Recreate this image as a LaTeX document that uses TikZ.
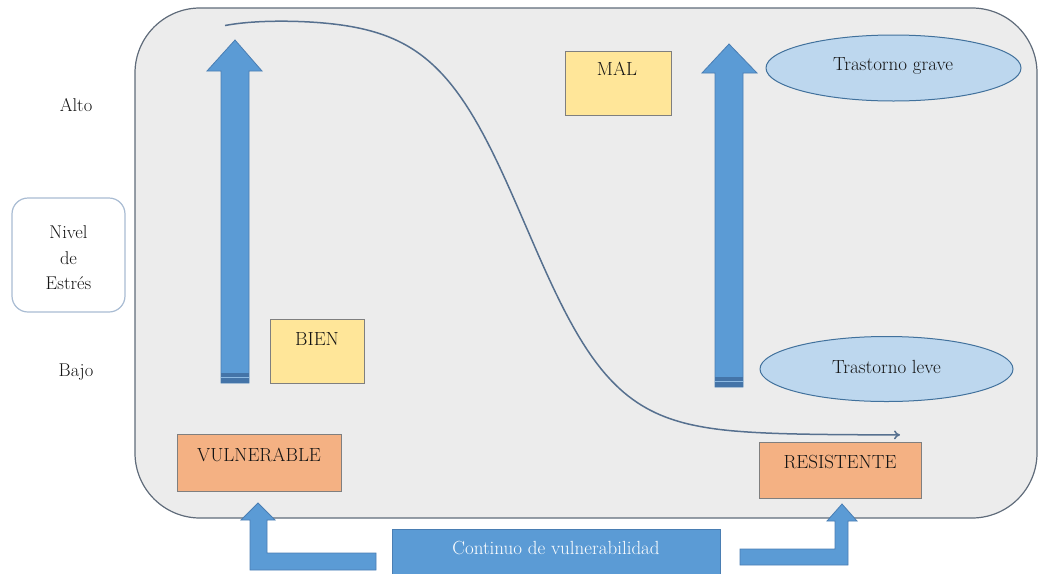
\documentclass[tikz,border=0pt]{standalone}
\usetikzlibrary{arrows.meta,shapes.geometric}

\definecolor{panelfill}{HTML}{ECECEC}
\definecolor{panelline}{HTML}{5F6B7A}
\definecolor{arrowblue}{HTML}{5B9BD5}
\definecolor{arrowedge}{HTML}{4A7EB3}
\definecolor{arrowband}{HTML}{4474A8}
\definecolor{goodfill}{HTML}{FFE699}
\definecolor{typefill}{HTML}{F4B183}
\definecolor{boxedge}{HTML}{7F7F7F}
\definecolor{ellfill}{HTML}{BDD7EE}
\definecolor{elledge}{HTML}{41719C}
\definecolor{curveline}{HTML}{56708F}
\definecolor{levelline}{HTML}{A9BCD3}
\definecolor{inktext}{HTML}{141414}

\tikzset{
  txt/.style={font=\fontsize{19}{23}\selectfont, text=inktext, inner sep=0pt},
  sidetxt/.style={font=\fontsize{18.5}{25.5}\selectfont, text=inktext, inner sep=0pt, align=center},
  statebox/.style={draw=boxedge, line width=1pt, fill=goodfill, inner sep=0pt},
  typebox/.style={draw=boxedge, line width=1pt, fill=typefill, inner sep=0pt},
  disorder/.style={ellipse, draw=elledge, line width=1pt, fill=ellfill, inner sep=0pt},
  blockarrow/.style={fill=arrowblue, draw=arrowedge, line width=0.8pt, line join=miter},
}

\begin{document}
\begin{tikzpicture}[x=1pt, y=-1pt]
\useasboundingbox (0,0) rectangle (1040,573);

% main panel
\draw[fill=panelfill, draw=panelline, line width=1.2pt, rounded corners=65pt]
  (135,8) rectangle (1037,518);

% stress-level scale on the left
\node[sidetxt] (alto) at (76,105) {Alto};
\node[draw=levelline, line width=1.2pt, fill=white, rounded corners=16pt,
      minimum width=113pt, minimum height=114pt] (nivelbox) at (68.5,255) {};
\node[sidetxt] (nivel) at (68.5,258) {Nivel\\de\\Estrés};
\node[sidetxt] (bajo) at (76,372) {Bajo};

% rising stress arrows
\draw[blockarrow] (235,40) -- (262,71) -- (249,71) -- (249,383) -- (221,383)
  -- (221,71) -- (207,71) -- cycle;
\fill[arrowband] (221,373) rectangle (249,383);
\draw[arrowblue!70!white, line width=0.8pt] (221,377) -- (249,377);

\draw[blockarrow] (729,44) -- (757,73) -- (743,73) -- (743,387) -- (715,387)
  -- (715,73) -- (702,73) -- cycle;
\fill[arrowband] (715,377) rectangle (743,387);
\draw[arrowblue!70!white, line width=0.8pt] (715,381) -- (743,381);

% outcome boxes
\node[statebox, minimum width=94pt, minimum height=64pt] (bienbox) at (317,351) {};
\node[txt] (bien) at (317,339) {BIEN};
\node[statebox, minimum width=106pt, minimum height=64pt] (malbox) at (618.5,83) {};
\node[txt] (mal) at (617,69) {MAL};

% disorder ellipses
\node[disorder, minimum width=255pt, minimum height=66pt] (grave) at (893.5,68) {};
\node[txt] (gravetxt) at (893,66) {Trastorno grave};
\node[disorder, minimum width=253pt, minimum height=65pt] (leve) at (886.5,369) {};
\node[txt] (levetxt) at (886.5,367) {Trastorno leve};

% vulnerability curve: a logistic drop from high to low stress
\draw[curveline, line width=1.5pt, -{To[length=6pt,width=9pt]}]
  plot[domain=225:900, samples=150]
  (\x, {18 + 417/(1+exp(-(\x-526)/45)) + 7*exp(-(\x-225)/35)});

% vulnerability types
\node[typebox, minimum width=164pt, minimum height=57pt] (vuln) at (259,463) {};
\node[txt] (vulntxt) at (259,455) {VULNERABLE};
\node[typebox, minimum width=162pt, minimum height=56pt] (resi) at (840,470) {};
\node[txt] (resitxt) at (840,462) {RESISTENTE};

% continuum bar with bent arrows
\node[fill=arrowblue, draw=arrowedge, line width=0.8pt, minimum width=328pt,
      minimum height=46pt, inner sep=0pt] (cont) at (556,552) {};
\node[txt, text=white] (conttxt) at (556,548) {Continuo de vulnerabilidad};

\draw[blockarrow] (258,503) -- (275,520) -- (267,520) -- (267,553) -- (376,553)
  -- (376,570) -- (250,570) -- (250,520) -- (241,520) -- cycle;
\draw[blockarrow] (842,504) -- (857,521) -- (848,521) -- (848,565) -- (740,565)
  -- (740,549) -- (835,549) -- (835,521) -- (827,521) -- cycle;
\end{tikzpicture}
\end{document}
